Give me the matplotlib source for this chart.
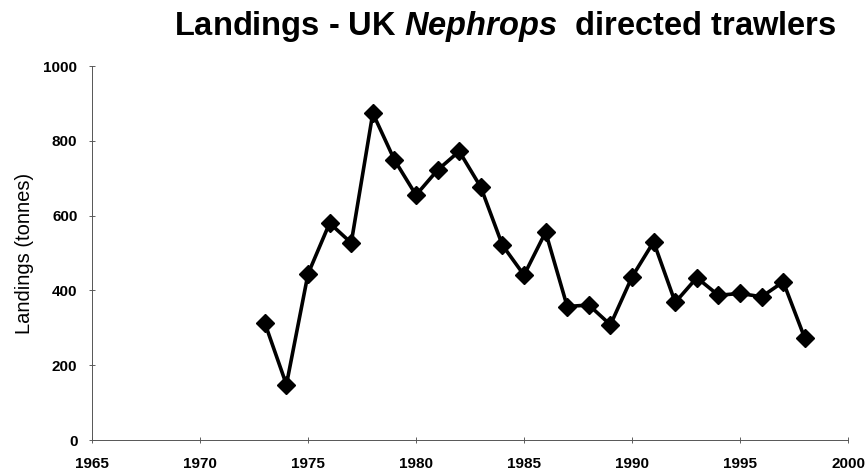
import matplotlib
matplotlib.use("Agg")
import matplotlib.pyplot as plt

years = [1973, 1974, 1975, 1976, 1977, 1978, 1979, 1980, 1981, 1982, 1983, 1984, 1985,
         1986, 1987, 1988, 1989, 1990, 1991, 1992, 1993, 1994, 1995, 1996, 1997, 1998]
landings = [313, 148, 444, 580, 527, 874, 749, 655, 722, 772, 676, 521, 441,
            556, 357, 361, 308, 436, 530, 368, 434, 387, 392, 383, 423, 272]
xticks = [1965, 1970, 1975, 1980, 1985, 1990, 1995, 2000]
yticks = [0, 200, 400, 600, 800, 1000]

plt.rcParams['font.family'] = ['Liberation Sans', 'DejaVu Sans']
plt.rcParams['mathtext.fontset'] = 'custom'
plt.rcParams['mathtext.it'] = 'Liberation Sans:italic:bold'
plt.rcParams['mathtext.rm'] = 'Liberation Sans:bold'

fig = plt.figure(figsize=(8.68, 4.74), dpi=100)
ax = fig.add_axes([0.106, 0.0717, 0.871, 0.789])

ax.plot(years, landings, color='black', lw=2.6, marker='D', ms=9,
        markerfacecolor='black', markeredgecolor='black', clip_on=False)

ax.set_xlim(1965, 2000)
ax.set_ylim(0, 1000)
ax.set_xticks(xticks)
ax.set_yticks(yticks)
ax.tick_params(axis='both', direction='inout', length=5, width=0.6, colors='#444444',
               labelcolor='black', labelsize=11)
ax.tick_params(axis='x', pad=10)
ax.tick_params(axis='y', pad=8)
for lbl in ax.get_xticklabels() + ax.get_yticklabels():
    lbl.set_fontweight('bold')

for s in ['top', 'right']:
    ax.spines[s].set_visible(False)
for s in ['left', 'bottom']:
    ax.spines[s].set_linewidth(0.7)
    ax.spines[s].set_color('#555555')

ax.set_ylabel('Landings (tonnes)', fontsize=14.5)
ax.yaxis.set_label_coords(-0.077, 0.5)

fig.text(0.582, 0.926, r'Landings - UK $Nephrops$  directed trawlers',
         ha='center', va='baseline', fontsize=23.5, fontweight='bold')

fig.savefig('out.png', dpi=100)
